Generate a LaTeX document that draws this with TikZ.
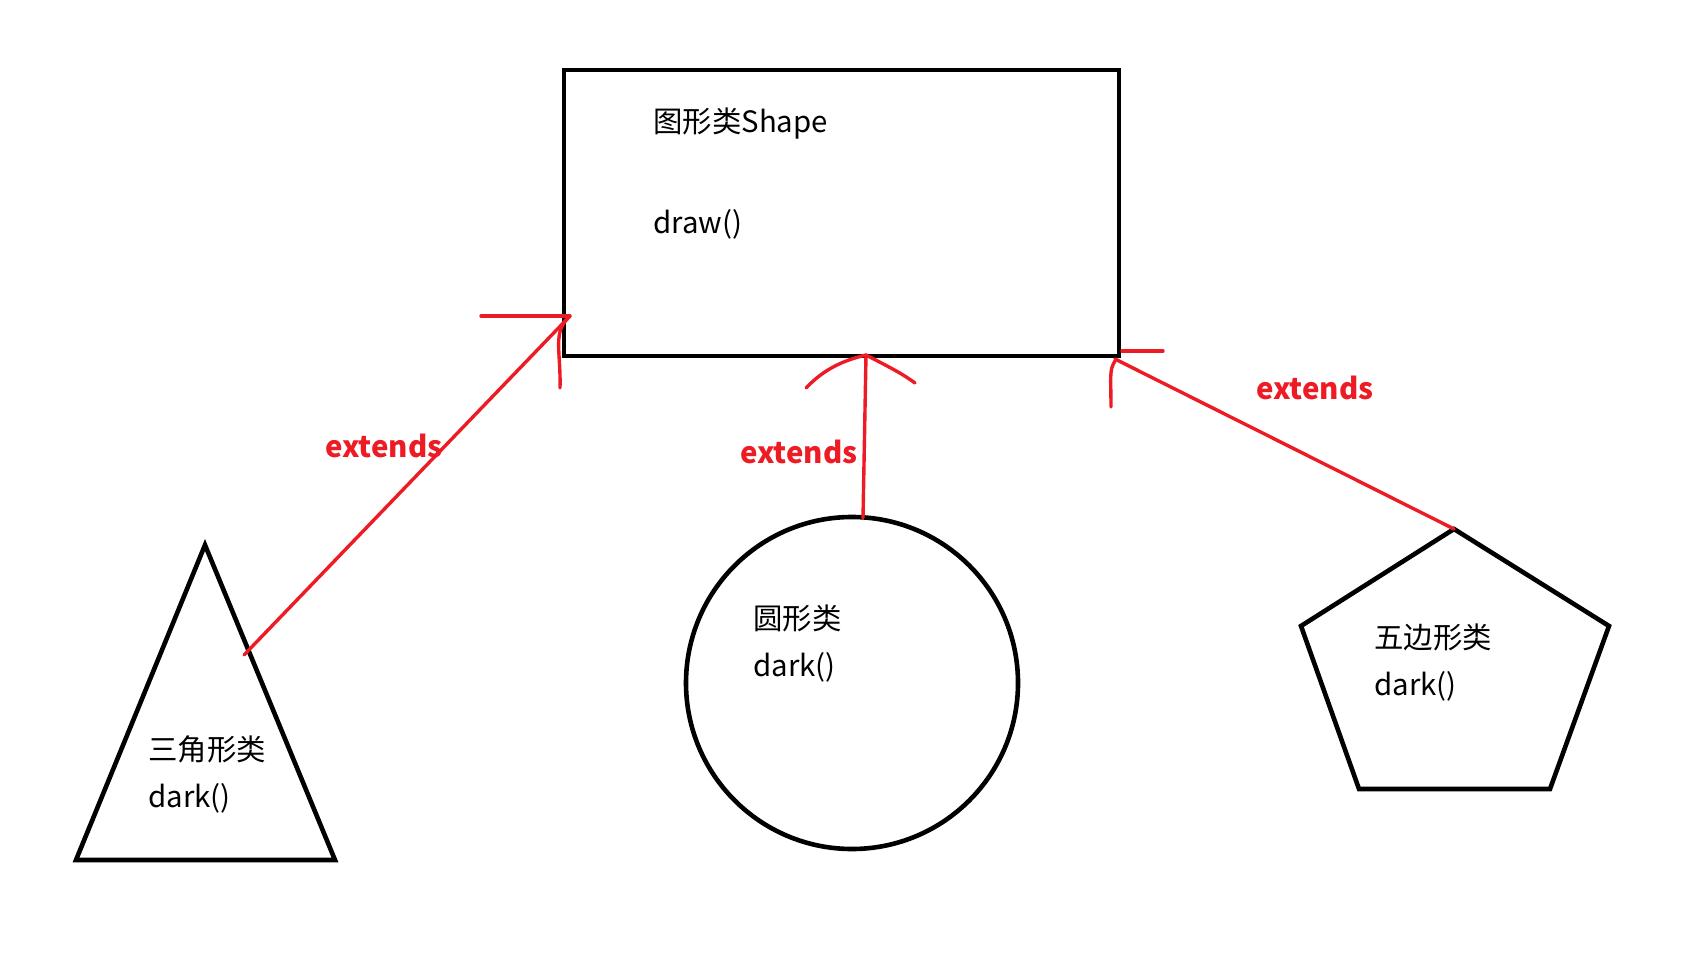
\documentclass[tikz,border=0pt]{standalone}
\usepackage{fontspec}
\setmainfont{Noto Sans CJK SC}
\definecolor{paintred}{RGB}{237,28,36}
\tikzset{
  outline/.style={line width=2.3pt, line join=miter},
  redline/.style={draw=paintred, line width=1.7pt, line cap=round},
  lbl/.style={anchor=west, inner sep=0pt, font=\fontsize{14.7}{18}\selectfont},
  extlbl/.style={text=paintred, inner sep=0pt, font=\fontsize{14.7}{18}\selectfont\bfseries}
}
\begin{document}
\begin{tikzpicture}[x=0.5pt,y=-0.5pt]
\useasboundingbox (0,0) rectangle (1692,962);
% parent class
\node[draw, outline, minimum width=277.5pt, minimum height=143pt, inner sep=0pt] (shape) at (841.5,213) {};
\node[lbl] (shapename) at (653,124) {图形类Shape};
\node[lbl] (shapedraw) at (653,224) {draw()};
% subclasses
\draw[outline] (205,545) -- (335,860) -- (76,860) -- cycle;
\coordinate (tri) at (244,655);
\node[lbl] (triname) at (148,749) {三角形类};
\node[lbl] (tridark) at (148,798) {dark()};
\node[draw, outline, circle, minimum size=166pt, inner sep=0pt] (circ) at (852,683) {};
\coordinate (circtop) at (863,518);
\node[lbl] (circname) at (753,618) {圆形类};
\node[lbl] (circdark) at (753,667) {dark()};
\draw[outline] (1454,529) -- (1609,626) -- (1550,789) -- (1359,789) -- (1301,626) -- cycle;
\coordinate (pent) at (1454,529);
\node[lbl] (pentname) at (1374,637) {五边形类};
\node[lbl] (pentdark) at (1374,686) {dark()};
% extends arrows
\coordinate (tt) at (570,316);
\coordinate (ct) at (866,355);
\coordinate (pt) at (1115,359);
\draw[redline] (tri) -- (tt);
\draw[redline] (tt) -- ++(-89,0);
\draw[redline] (tt) .. controls (552,332) and (561,350) .. (560,388);
\draw[redline] (circtop) -- (ct);
\draw[redline] (ct) .. controls (845,360) and (825,368) .. (806,388);
\draw[redline] (ct) .. controls (885,365) and (900,372) .. (915,383);
\draw[redline] (pent) -- (pt);
\draw[redline] (1122,351) -- (1163,351);
\draw[redline] (1115,361) .. controls (1109,370) and (1111,378) .. (1111,407);
\node[extlbl] (ext1) at (384,446) {extends};
\node[extlbl] (ext2) at (799,452) {extends};
\node[extlbl] (ext3) at (1315,388) {extends};
\end{tikzpicture}
\end{document}
